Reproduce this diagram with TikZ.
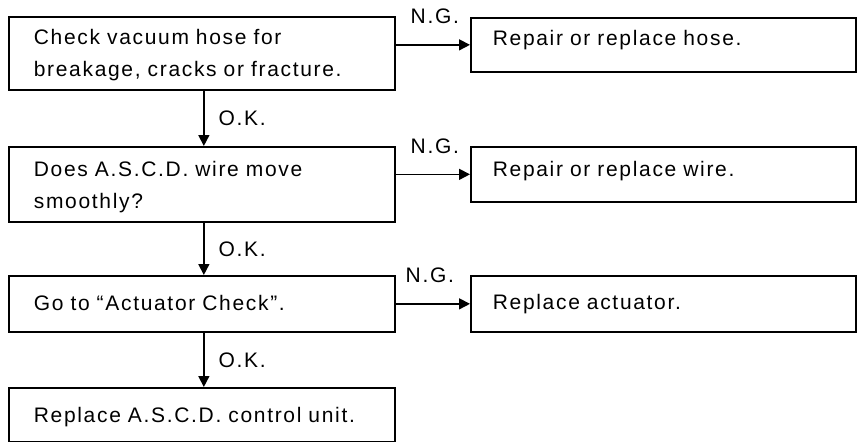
\documentclass[tikz,border=0pt]{standalone}
\usepackage{fontspec}
\setmainfont{Liberation Sans}[LetterSpace=8]
\usepackage{tikz}
\usetikzlibrary{arrows.meta,positioning,calc}

\begin{document}
\begin{tikzpicture}[
  x=1pt, y=-1pt,
  box/.style={rectangle, draw=black, line width=1.7pt, anchor=north west, align=left, inner ysep=0pt, inner xsep=25pt, text width=336pt, font=\fontsize{21}{32}\selectfont},
  rbox/.style={box, inner xsep=22pt, text width=341pt},
  arrow/.style={-{Triangle[length=11pt, width=11pt]}, line width=1.6pt, draw=black},
  ok/.style={right=14pt, inner sep=0pt, font=\fontsize{21}{22}\selectfont},
  ng/.style={above=20pt, inner sep=0pt, font=\fontsize{21}{22}\selectfont}
]
\useasboundingbox (0,0) rectangle (860,442);
% left column
\node[box, text height=28pt, text depth=45pt] (hosechk) at (8,16) {Check vacuum hose for\\breakage, cracks or fracture.};
\node[box, text height=30pt, text depth=45pt] (wirechk) at (8,146) {Does A.S.C.D. wire move\\smoothly?};
\node[box, text height=35pt, text depth=21pt] (actchk) at (8,275) {Go to ``Actuator Check''.};
\node[box, text height=35pt, text depth=19pt] (unit) at (8,387) {Replace A.S.C.D. control unit.};
% right column
\node[rbox, text height=28pt, text depth=26pt] (hose) at (470,17) {Repair or replace hose.};
\node[rbox, text height=30pt, text depth=25pt] (wire) at (470,146) {Repair or replace wire.};
\node[rbox, text height=34pt, text depth=22pt] (act) at (470,275) {Replace actuator.};
% O.K. arrows
\draw[arrow] ([xshift=2pt]hosechk.south) -- ([xshift=2pt]hosechk.south |- wirechk.north) node[ok, midway] {O.K.};
\draw[arrow] ([xshift=2pt]wirechk.south) -- ([xshift=2pt]wirechk.south |- actchk.north) node[ok, midway] {O.K.};
\draw[arrow] ([xshift=2pt]actchk.south) -- ([xshift=2pt]actchk.south |- unit.north) node[ok, midway] {O.K.};
% N.G. arrows
\draw[arrow] (hose.west -| hosechk.east) -- (hose.west) node[ng, midway, xshift=2pt] {N.G.};
\draw[arrow] (wire.west -| wirechk.east) -- (wire.west) node[ng, midway, xshift=2pt] {N.G.};
\draw[arrow] (act.west -| actchk.east) -- (act.west) node[ng, midway, xshift=-3pt] {N.G.};
\end{tikzpicture}
\end{document}
